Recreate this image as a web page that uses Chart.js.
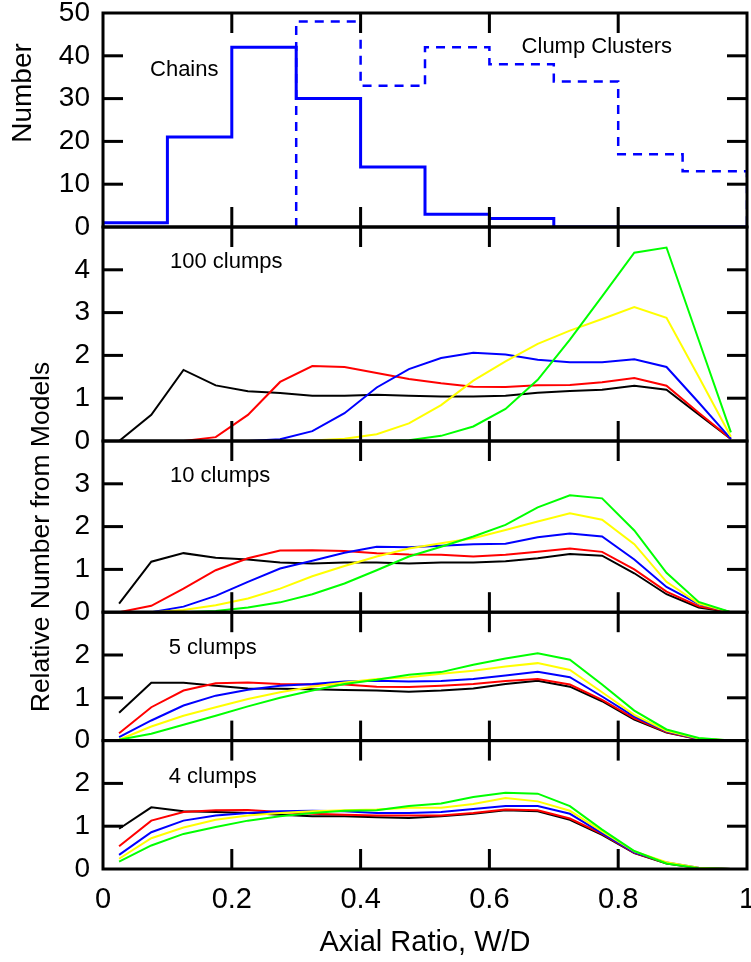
<!DOCTYPE html>
<html>
<head>
<meta charset="utf-8">
<title>Axial ratio distributions</title>
<script src="https://cdn.jsdelivr.net/npm/chart.js@4.4.1/dist/chart.umd.min.js"></script>
<style>
  html, body { margin: 0; padding: 0; background: #fff; }
  canvas { display: block; }
</style>
</head>
<body>
<canvas id="axialChart" width="751" height="962"></canvas>
<script>
// Bin centres of the model curves (bins of 0.05 in W/D)
const binCenters = [0.025, 0.075, 0.125, 0.175, 0.225, 0.275, 0.325, 0.375, 0.425, 0.475,
                    0.525, 0.575, 0.625, 0.675, 0.725, 0.775, 0.825, 0.875, 0.925, 0.975];

// Observed histogram (top panel), bins of 0.1
const histEdges = [0, 0.1, 0.2, 0.3, 0.4, 0.5, 0.6, 0.7, 0.8, 0.9, 1.0];
const chainCounts = [1, 21, 42, 30, 14, 3, 2, 0, 0, 0];
const clusterCounts = [null, null, null, 48, 33, 42, 38, 34, 17, 13];

// 100 clumps
const black100 = [0, 0.61, 1.66, 1.30, 1.16, 1.12, 1.06, 1.06, 1.08, 1.06, 1.04, 1.04, 1.06, 1.13, 1.17, 1.20, 1.29, 1.20, 0.62, 0.05];
const red100 = [null, null, 0, 0.09, 0.61, 1.38, 1.75, 1.73, 1.59, 1.45, 1.35, 1.27, 1.26, 1.30, 1.31, 1.37, 1.47, 1.29, 0.66, 0.05];
const blue100 = [null, null, null, null, 0, 0.04, 0.23, 0.65, 1.25, 1.68, 1.94, 2.06, 2.02, 1.90, 1.84, 1.84, 1.91, 1.73, 0.90, 0.05];
const yellow100 = [null, null, null, null, null, 0, 0.01, 0.05, 0.16, 0.41, 0.84, 1.41, 1.86, 2.27, 2.58, 2.85, 3.13, 2.88, 1.50, 0.10];
const green100 = [null, null, null, null, null, null, null, 0, 0, 0.02, 0.12, 0.34, 0.75, 1.43, 2.37, 3.38, 4.40, 4.52, 2.36, 0.20];

// 10 clumps
const black10 = [0.20, 1.18, 1.38, 1.27, 1.23, 1.16, 1.14, 1.16, 1.16, 1.14, 1.16, 1.16, 1.19, 1.26, 1.36, 1.32, 0.91, 0.42, 0.11, 0];
const red10 = [0, 0.15, 0.55, 0.98, 1.26, 1.44, 1.45, 1.43, 1.38, 1.35, 1.34, 1.30, 1.34, 1.41, 1.49, 1.41, 1.00, 0.48, 0.14, 0];
const blue10 = [0, 0, 0.13, 0.38, 0.71, 1.02, 1.20, 1.39, 1.53, 1.52, 1.55, 1.59, 1.60, 1.75, 1.84, 1.77, 1.23, 0.59, 0.19, 0];
const yellow10 = [null, 0, 0.05, 0.16, 0.32, 0.55, 0.84, 1.08, 1.30, 1.49, 1.61, 1.73, 1.92, 2.12, 2.31, 2.16, 1.59, 0.71, 0.20, 0];
const green10 = [null, 0, 0, 0.03, 0.11, 0.23, 0.42, 0.67, 0.98, 1.30, 1.53, 1.77, 2.04, 2.45, 2.73, 2.66, 1.91, 0.92, 0.24, 0];

// 5 clumps
const black5 = [0.65, 1.35, 1.35, 1.28, 1.22, 1.21, 1.20, 1.18, 1.17, 1.14, 1.17, 1.22, 1.32, 1.40, 1.26, 0.92, 0.49, 0.19, 0.03, 0];
const red5 = [0.17, 0.78, 1.17, 1.34, 1.36, 1.32, 1.31, 1.31, 1.26, 1.25, 1.28, 1.32, 1.39, 1.44, 1.31, 0.95, 0.52, 0.20, 0.03, 0];
const blue5 = [0.08, 0.47, 0.82, 1.05, 1.19, 1.28, 1.32, 1.38, 1.40, 1.38, 1.39, 1.44, 1.52, 1.61, 1.48, 1.03, 0.56, 0.22, 0.04, 0];
const yellow5 = [0.02, 0.33, 0.58, 0.78, 0.97, 1.13, 1.26, 1.36, 1.44, 1.48, 1.56, 1.63, 1.73, 1.81, 1.65, 1.13, 0.60, 0.23, 0.05, 0];
const green5 = [0.02, 0.16, 0.37, 0.58, 0.80, 1.00, 1.17, 1.32, 1.42, 1.54, 1.60, 1.77, 1.92, 2.04, 1.89, 1.31, 0.70, 0.26, 0.06, 0];

// 4 clumps
const black4 = [0.94, 1.44, 1.35, 1.33, 1.31, 1.27, 1.23, 1.23, 1.21, 1.19, 1.23, 1.29, 1.37, 1.35, 1.15, 0.80, 0.37, 0.13, 0.02, 0];
const red4 = [0.53, 1.13, 1.33, 1.37, 1.38, 1.33, 1.29, 1.27, 1.25, 1.25, 1.25, 1.31, 1.39, 1.37, 1.18, 0.82, 0.38, 0.14, 0.02, 0];
const blue4 = [0.33, 0.86, 1.13, 1.25, 1.31, 1.35, 1.36, 1.35, 1.31, 1.31, 1.33, 1.40, 1.47, 1.47, 1.29, 0.84, 0.39, 0.15, 0.03, 0];
const yellow4 = [0.24, 0.72, 0.97, 1.15, 1.25, 1.31, 1.35, 1.37, 1.39, 1.43, 1.43, 1.52, 1.66, 1.58, 1.36, 0.88, 0.41, 0.16, 0.03, 0];
const green4 = [0.17, 0.55, 0.82, 0.98, 1.13, 1.23, 1.31, 1.36, 1.37, 1.47, 1.53, 1.68, 1.78, 1.76, 1.47, 0.92, 0.42, 0.13, 0.02, 0];

const FONT = "'Liberation Sans', Arial, Helvetica, sans-serif";
Chart.defaults.font.family = FONT;
Chart.defaults.color = '#000';

// model colours, drawn green on top (dataset 0 is painted last)
const modelColors = ['#00ff00', '#ffff00', '#0000ff', '#ff0000', '#000000'];

const panels = [
    { axis: 'y100', series: [green100, yellow100, blue100, red100, black100] },
    { axis: 'y10', series: [green10, yellow10, blue10, red10, black10] },
    { axis: 'y5', series: [green5, yellow5, blue5, red5, black5] },
    { axis: 'y4', series: [green4, yellow4, blue4, red4, black4] }
];

// text written inside the panels, placed in data units of each panel
const panelNotes = [
    { axis: 'yHist', x: 0.073, y: 36.7, text: 'Chains' },
    { axis: 'yHist', x: 0.650, y: 42.0, text: 'Clump Clusters' },
    { axis: 'y100', x: 0.104, y: 4.19, text: '100 clumps' },
    { axis: 'y10', x: 0.104, y: 3.18, text: '10 clumps' },
    { axis: 'y5', x: 0.102, y: 2.17, text: '5 clumps' },
    { axis: 'y4', x: 0.102, y: 2.15, text: '4 clumps' }
];

// turn bin counts into corner points of a stepped outline
function histPoints(counts) {
    const pts = [];
    let last = -1;
    counts.forEach((c, i) => {
        if (c === null) return;
        if (pts.length === 0) pts.push({ x: histEdges[i], y: 0 });
        pts.push({ x: histEdges[i], y: c });
        last = i;
    });
    pts.push({ x: histEdges[last + 1], y: 0 });
    return pts;
}

function curvePoints(values) {
    return binCenters.map((x, i) => ({ x: x, y: values[i] }));
}

const datasets = [
    {
        label: 'Chains',
        data: histPoints(chainCounts),
        yAxisID: 'yHist',
        stepped: 'before',
        borderColor: '#0000ff',
        borderWidth: 3
    },
    {
        label: 'Clump Clusters',
        data: histPoints(clusterCounts),
        yAxisID: 'yHist',
        stepped: 'before',
        borderColor: '#0000ff',
        borderWidth: 2.5,
        borderDash: [9, 7]
    }
];
panels.forEach(p => {
    p.series.forEach((values, k) => {
        datasets.push({
            data: curvePoints(values),
            yAxisID: p.axis,
            borderColor: modelColors[k],
            borderWidth: 2,
            tension: 0
        });
    });
});

function yAxis(min, max, step, weight, hideTop) {
    return {
        type: 'linear',
        position: 'left',
        stack: 'panels',
        stackWeight: weight,
        min: min,
        max: max,
        grid: { display: false, drawTicks: false },
        border: { display: false },
        ticks: {
            stepSize: step,
            autoSkip: false,
            padding: 13,
            font: { size: 28 },
            callback: v => (hideTop && v === max) ? '' : String(v)
        },
        afterFit: s => { s.width = 103; s.paddingTop = 0; s.paddingBottom = 0; }
    };
}

// frame of every panel with inward ticks on all four sides, plus the labels
const framePlugin = {
    id: 'panelFrames',
    afterDraw(chart) {
        const ctx = chart.ctx;
        const area = chart.chartArea;
        const xs = chart.scales.x;
        const tickLen = 20;
        const tickW = 3;
        ctx.save();
        ctx.fillStyle = '#000';
        ctx.strokeStyle = '#000';
        ['yHist', 'y100', 'y10', 'y5', 'y4'].forEach(id => {
            const s = chart.scales[id];
            s.ticks.forEach(t => {
                if (t.value <= s.min || t.value >= s.max) return;
                const y = s.getPixelForValue(t.value);
                ctx.fillRect(area.left, y - tickW / 2, tickLen, tickW);
                ctx.fillRect(area.right - tickLen, y - tickW / 2, tickLen, tickW);
            });
            xs.ticks.forEach(t => {
                if (t.value <= xs.min + 1e-6 || t.value >= xs.max - 1e-6) return;
                const x = xs.getPixelForValue(t.value);
                ctx.fillRect(x - tickW / 2, s.top, tickW, tickLen);
                ctx.fillRect(x - tickW / 2, s.bottom - tickLen, tickW, tickLen);
            });
            ctx.lineWidth = 3;
            ctx.strokeRect(area.left, s.top, area.right - area.left, s.bottom - s.top);
        });

        ctx.font = '22px ' + FONT;
        ctx.textAlign = 'left';
        ctx.textBaseline = 'middle';
        panelNotes.forEach(n => {
            const s = chart.scales[n.axis];
            ctx.fillText(n.text, xs.getPixelForValue(n.x), s.getPixelForValue(n.y));
        });

        // vertical axis titles
        ctx.textAlign = 'center';
        ctx.save();
        ctx.font = '28px ' + FONT;
        ctx.translate(23, 93);
        ctx.rotate(-Math.PI / 2);
        ctx.fillText('Number', 0, 0);
        ctx.restore();
        ctx.save();
        ctx.font = '26.5px ' + FONT;
        ctx.translate(42, 537);
        ctx.rotate(-Math.PI / 2);
        ctx.fillText('Relative Number from Models', 0, 0);
        ctx.restore();
        ctx.restore();
    }
};

new Chart(document.getElementById('axialChart'), {
    type: 'line',
    data: { datasets: datasets },
    options: {
        responsive: false,
        animation: false,
        events: [],
        layout: { padding: { top: 13, right: 4, left: 0, bottom: 0 } },
        elements: { point: { radius: 0 }, line: { fill: false } },
        plugins: { legend: { display: false }, tooltip: { enabled: false } },
        scales: {
            x: {
                type: 'linear',
                position: 'bottom',
                min: 0,
                max: 1,
                grid: { display: false, drawTicks: false },
                border: { display: false },
                ticks: {
                    stepSize: 0.2,
                    padding: 14,
                    font: { size: 29 },
                    callback: v => String(+v.toFixed(1))
                },
                title: {
                    display: true,
                    text: 'Axial Ratio, W/D',
                    font: { size: 29 },
                    padding: { top: 0, bottom: 2 }
                },
                afterFit: s => { s.height = 93; s.paddingLeft = 0; s.paddingRight = 0; }
            },
            // stacked scales are laid out bottom-up from the last key, so list them bottom first
            y4: yAxis(0, 3, 1, 3, true),
            y5: yAxis(0, 3, 1, 3, true),
            y10: yAxis(0, 4, 1, 4, true),
            y100: yAxis(0, 5, 1, 5, true),
            yHist: yAxis(0, 50, 10, 5, false)
        }
    },
    plugins: [framePlugin]
});
</script>
</body>
</html>
